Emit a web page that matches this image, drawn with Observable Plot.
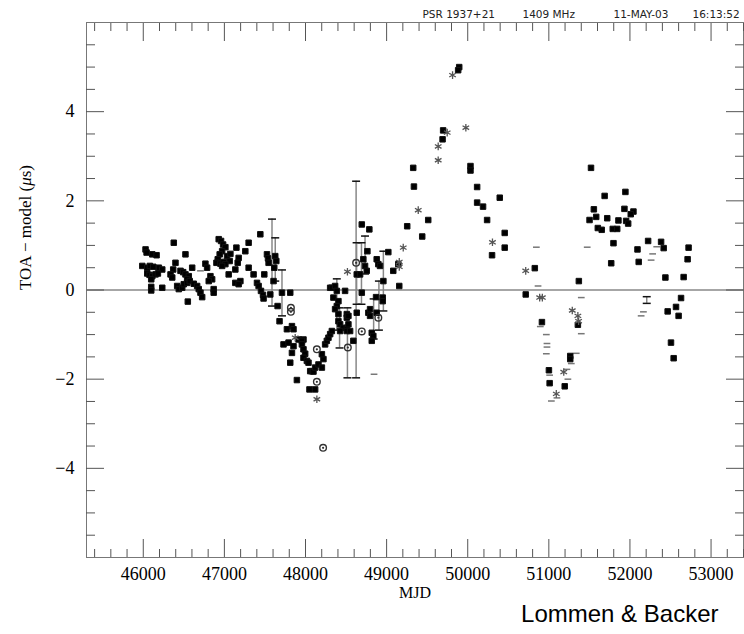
<!DOCTYPE html>
<html><head><meta charset="utf-8">
<script src="https://cdn.jsdelivr.net/npm/d3@7"></script>
<script src="https://cdn.jsdelivr.net/npm/@observablehq/plot@0.6"></script>
<style>body{margin:0;background:#fff}</style>
</head><body><div id="chart"></div>
<script>
// ---- data: [MJD, residual (µs)] ----
const filledPts = [
[46028,0.91],[46041,0.84],[46111,0.80],[46164,0.78],[46376,1.06],[46520,0.80],[45988,0.54],[46049,0.50],[46081,0.54],[46123,0.52],[46192,0.50],[46234,0.46],[46049,0.37],[46077,0.34],[46111,0.31],[46151,0.35],[46180,0.37],[46098,0.24],[46098,0.07],[46098,-0.01],[46234,0.05],[46397,0.61],[46369,0.46],[46336,0.35],[46357,0.28],[46459,0.43],[46492,0.40],[46520,0.35],[46603,0.50],[46561,0.31],[46541,0.24],[46418,0.09],[46438,0.02],[46480,0.05],[46499,0.13],[46541,0.16],[46573,0.20],[46622,0.14],[46664,0.09],[46684,0.02],[46705,-0.06],[46726,-0.16],[46549,-0.26],[46766,0.59],[46828,0.31],[46849,0.24],[46807,0.20],[46868,0.02],[46868,-0.06],[46787,0.50],[46930,1.14],[46959,1.10],[46984,1.02],[47012,0.96],[46972,0.87],[46942,0.80],[46918,0.69],[46902,0.61],[46951,0.59],[46991,0.63],[47033,0.76],[47074,0.81],[47065,0.65],[47012,0.58],[46972,0.54],[47148,0.95],[47176,0.72],[47164,0.61],[47135,0.46],[47197,0.20],[47135,0.16],[47176,0.13],[47053,0.35],[47258,0.87],[47299,1.06],[47299,0.50],[47360,0.35],[47443,1.25],[47402,0.16],[47422,0.09],[47451,-0.02],[47476,-0.11],[47483,-0.19],[47492,0.35],[47525,0.80],[47538,0.71],[47545,0.61],[47627,0.76],[47640,0.65],[47615,0.50],[47606,0.20],[47710,-0.06],[47812,-0.06],[47656,-0.36],[47680,-0.70],[47771,-0.88],[47833,-0.81],[47852,-0.88],[47914,-1.11],[47975,-1.11],[47566,-0.10],
[47729,-1.22],[47791,-1.18],[47852,-1.26],[47833,-1.41],[47812,-1.63],[47956,-1.14],[47956,-1.22],[47975,-1.33],[47996,-1.43],[47975,-1.52],[48017,-1.59],[48037,-1.63],[48058,-1.82],[48079,-1.82],[48098,-1.83],[48119,-1.74],[48160,-1.67],[48202,-1.74],[48221,-1.55],[48202,-1.44],[48242,-1.22],[48263,-1.14],[48283,-1.07],[48304,-0.99],[48325,-0.92],[47894,-2.02],[48049,-2.23],[48119,-2.23],[48304,0.05],[48325,0.05],[48365,0.09],[48386,-0.02],[48344,-0.17],[48406,-0.25],[48386,-0.36],[48365,-0.43],[48406,-0.54],[48406,-0.70],[48427,-0.77],[48467,-0.85],[48509,-0.85],[48427,-0.92],[48509,-0.92],[48529,-0.77],[48509,-0.62],[48509,-0.54],[48488,-0.02],[48694,1.47],[48787,1.36],[48632,0.35],[48673,0.35],[48713,0.69],[48734,0.54],[48755,0.43],[48763,0.87],[48694,-0.06],[48632,-0.51],[48529,-0.58],[48550,-0.92],[48590,-1.14],[48775,-0.51],[48796,-0.58],[48817,-0.96],[48836,-1.03],[48817,-1.14],[48878,0.69],[48898,0.58],[48919,0.54],[48960,0.20],[48952,-0.17],[48952,-0.25],[48870,-0.16],[48878,-0.51],[48796,-0.43],[49021,0.85],[49082,0.43],[49144,0.58],[49156,0.09],
[49895,5.00],[49882,4.93],[49697,3.58],[49690,3.38],[49328,2.74],[49337,2.32],[50034,2.78],[50034,2.68],[50116,2.31],[49513,1.57],[49254,1.43],[49439,1.20],[50116,1.96],[50189,1.87],[50239,1.57],[50395,2.07],[50456,1.28],[50456,0.95],[50300,0.78],[50827,0.49],[50715,-0.10],
[50915,-0.72],[51001,-1.80],[51010,-2.09],[51196,-2.16],[51264,-1.48],[51264,-1.55],[51370,0.20],[51358,-0.78],[51520,2.74],[51555,1.81],[51502,1.57],[51584,1.64],[51604,1.39],[51688,2.11],[51944,2.20],[51720,1.61],[51652,1.35],[51788,1.37],[51843,1.37],[51858,1.56],[51932,1.82],[52043,1.76],[52010,1.70],[51953,1.55],[51978,1.49],[51797,1.05],[51769,0.60],[52224,1.10],[52384,1.08],[52093,0.91],[52416,0.94],[52108,0.63],[52723,0.95],[52711,0.69],[52437,0.28],[52662,0.29],[52630,-0.18],[52568,-0.38],[52465,-0.48],[52600,-0.58],[52506,-1.18],[52539,-1.53]
];
const starPts = [
[47873,-1.07],[48140,-2.45],[48517,0.41],[49205,0.95],[49813,4.82],[49747,3.53],[49636,3.22],[49636,2.91],[49977,3.64],[49390,1.79],[50305,1.07],[49156,0.63],[49156,0.52],[50715,0.43],[50887,-0.17],[50920,-0.17],[51092,-2.33],[51184,-1.84],[51289,-0.46],[51358,-0.58],[51367,-0.70]
];
const openPts = [
[47820,-0.40],[47820,-0.49],[48140,-2.06],[48140,-1.33],[48624,0.61],[48522,-1.29],[48694,-0.93],[48898,-0.62],[48217,-3.54]
];
const dashPts = [
[46705,0.43],[48845,-1.89],[50846,0.96],[50867,0.09],[50895,-0.82],[50969,-1.00],[50977,-1.20],[50977,-1.28],[50969,-1.43],[51010,-1.91],[51031,-2.49],[51100,-2.42],[51235,-2.00],[51223,-1.78],[51277,-1.65],[51338,-1.42],[51400,-0.17],[51473,0.96],[51400,-0.98],[52330,0.97],[52280,0.81],[52261,0.67],[52166,-0.49],[52138,-0.58]
];
// [MJD, low, high]
const errBars = [
[47587,-0.36,1.59],[47627,0.20,1.17],[47710,-0.58,0.45],[48624,-1.97,2.44],[48630,-0.32,1.06],[48690,-0.32,1.06],[48734,0.36,1.21],[48960,-0.47,0.87],[48517,-1.97,-0.40],[52207,-0.30,-0.15],[48386,-0.90,0.25],[48420,-1.30,-0.40],[48840,-1.10,-0.20],[48905,-0.90,0.20]
];
const xMajor = d3.range(46000, 53001, 1000);
const xMinor = d3.range(45400, 53401, 200).filter(v => v % 1000 !== 0);
const yMajor = [-4, -2, 0, 2, 4];
const yMinor = d3.range(-5.5, 5.51, 0.5).filter(v => v % 2 !== 0);
const header = ["PSR 1937+21", "1409 MHz", "11-MAY-03", "16:13:52"];
const xTitle = "MJD";
const yTitle = "TOA \u2212 model (\u03bcs)";
const caption = "Lommen & Backer";

const hline = {draw(ctx, size) { const w = Math.sqrt(size) / 2; ctx.moveTo(-w, 0); ctx.lineTo(w, 0); }};
const tk = "#555";
const serif = "Liberation Serif";

const headerDx = [336, 436, 527, 606];

const plot = Plot.plot({
  width: 744, height: 634,
  marginLeft: 86, marginRight: 1, marginTop: 22, marginBottom: 77,
  style: {fontFamily: serif, background: "#fff", color: "#000"},
  x: {domain: [45300, 53400]},
  y: {domain: [-6, 6]},
  marks: [
    Plot.frame({stroke: "#777"}),
    Plot.ruleY([0], {stroke: "#888", strokeWidth: 1.5}),
    // inward ticks
    Plot.axisX(xMajor, {anchor: "bottom", tickSize: 18, dy: -18, tickFormat: () => "", stroke: tk, label: null}),
    Plot.axisX(xMinor, {anchor: "bottom", tickSize: 8, dy: -8, tickFormat: () => "", stroke: tk, label: null}),
    Plot.axisX(xMajor, {anchor: "top", tickSize: 18, dy: 18, tickFormat: () => "", stroke: tk, label: null}),
    Plot.axisX(xMinor, {anchor: "top", tickSize: 8, dy: 8, tickFormat: () => "", stroke: tk, label: null}),
    Plot.axisY(yMajor, {anchor: "left", tickSize: 18, dx: 18, tickFormat: () => "", stroke: tk, label: null}),
    Plot.axisY(yMinor, {anchor: "left", tickSize: 9, dx: 9, tickFormat: () => "", stroke: tk, label: null}),
    Plot.axisY(yMajor, {anchor: "right", tickSize: 18, dx: -18, tickFormat: () => "", stroke: tk, label: null}),
    Plot.axisY(yMinor, {anchor: "right", tickSize: 9, dx: -9, tickFormat: () => "", stroke: tk, label: null}),
    // tick labels
    Plot.axisX(xMajor, {anchor: "bottom", tickSize: 0, tickPadding: 10, fontSize: 18, label: null, tickFormat: d => String(d)}),
    Plot.axisY(yMajor, {anchor: "left", tickSize: 0, tickPadding: 12, fontSize: 18, label: null}),
    // error bars
    Plot.ruleX(errBars, {x: d => d[0], y1: d => d[1], y2: d => d[2], stroke: "#888", strokeWidth: 1.5}),
    Plot.dot(errBars, {x: d => d[0], y: d => d[1], symbol: hline, r: 4.5, stroke: "#111", strokeWidth: 1.5}),
    Plot.dot(errBars, {x: d => d[0], y: d => d[2], symbol: hline, r: 4.5, stroke: "#111", strokeWidth: 1.5}),
    // points
    Plot.dot(dashPts, {x: d => d[0], y: d => d[1], symbol: hline, r: 3.8, stroke: "#777", strokeWidth: 1.5}),
    Plot.dot(filledPts, {x: d => d[0], y: d => d[1], symbol: "square", r: 3.1, fill: "#000", stroke: "#111", strokeWidth: 1, strokeLinejoin: "round"}),
    Plot.dot(starPts, {x: d => d[0], y: d => d[1], symbol: "asterisk", r: 3.6, stroke: "#555", strokeWidth: 1.3}),
    Plot.dot(openPts, {x: d => d[0], y: d => d[1], r: 3.3, stroke: "#333", strokeWidth: 1.4, fill: "none"}),
    Plot.dot(openPts, {x: d => d[0], y: d => d[1], r: 1.1, fill: "#333"}),
    // texts
    ...header.map((h, i) => Plot.text([h], {frameAnchor: "top-left", dx: headerDx[i], dy: -5, lineAnchor: "bottom", textAnchor: "start", fontFamily: "DejaVu Sans", fontSize: 10.5, fill: "#222"})),
    Plot.text([xTitle], {frameAnchor: "bottom", dy: 40, fontSize: 16}),
    Plot.text([yTitle], {frameAnchor: "left", dx: -61, rotate: -90, fontSize: 17}),
    Plot.text([caption], {frameAnchor: "bottom-right", dx: -25, dy: 64, textAnchor: "end", fontFamily: "Liberation Sans", fontSize: 24, fill: "#000"})
  ]
});
document.getElementById("chart").appendChild(plot);
// italic mu in the y title
d3.select(plot).selectAll("text").each(function() {
  const t = d3.select(this);
  if (t.text() === yTitle) {
    t.text(null);
    t.append("tspan").text("TOA \u2212 model (");
    t.append("tspan").attr("font-style", "italic").text("\u03bc");
    t.append("tspan").text("s)");
  }
});
</script>
</body></html>
